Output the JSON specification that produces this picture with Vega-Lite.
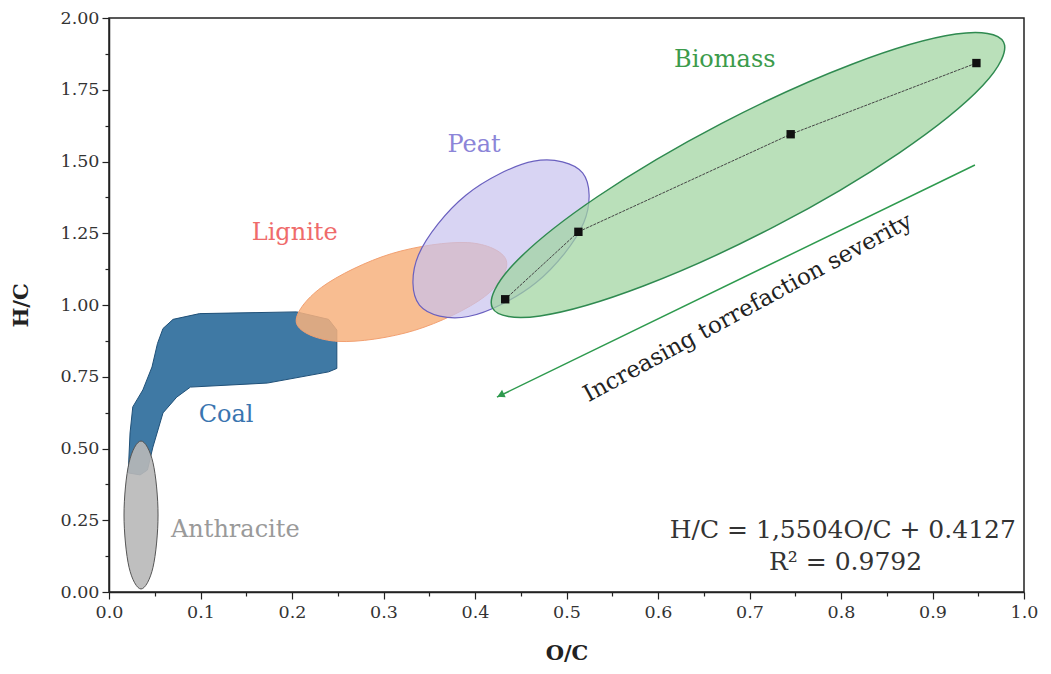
{
  "$schema": "https://vega.github.io/schema/vega-lite/v6.json",
  "width": 915,
  "height": 574,
  "autosize": {"type": "none"},
  "padding": {"left": 109, "top": 18, "right": 27, "bottom": 82},
  "background": "#ffffff",
  "config": {
    "view": {"stroke": "#222222", "strokeWidth": 1.5},
    "font": "DejaVu Serif",
    "axis": {
      "labelFont": "DejaVu Serif", "labelFontSize": 17.5, "labelColor": "#333333",
      "titleFont": "DejaVu Serif", "titleFontSize": 21, "titleFontWeight": "bold", "titleColor": "#222222",
      "domainColor": "#222222", "domainWidth": 1.5, "tickColor": "#222222", "tickWidth": 1.2, "grid": false
    }
  },
  "datasets": {
    "shapes": [
      {"region": "Coal", "i": 0, "x": 0.021, "y": 0.415},
      {"region": "Coal", "i": 1, "x": 0.023, "y": 0.554},
      {"region": "Coal", "i": 2, "x": 0.026, "y": 0.645},
      {"region": "Coal", "i": 3, "x": 0.037, "y": 0.704},
      {"region": "Coal", "i": 4, "x": 0.047, "y": 0.784},
      {"region": "Coal", "i": 5, "x": 0.053, "y": 0.866},
      {"region": "Coal", "i": 6, "x": 0.059, "y": 0.918},
      {"region": "Coal", "i": 7, "x": 0.070, "y": 0.950},
      {"region": "Coal", "i": 8, "x": 0.099, "y": 0.970},
      {"region": "Coal", "i": 9, "x": 0.205, "y": 0.976},
      {"region": "Coal", "i": 10, "x": 0.240, "y": 0.950},
      {"region": "Coal", "i": 11, "x": 0.249, "y": 0.913},
      {"region": "Coal", "i": 12, "x": 0.249, "y": 0.779},
      {"region": "Coal", "i": 13, "x": 0.240, "y": 0.767},
      {"region": "Coal", "i": 14, "x": 0.173, "y": 0.728},
      {"region": "Coal", "i": 15, "x": 0.089, "y": 0.714},
      {"region": "Coal", "i": 16, "x": 0.074, "y": 0.679},
      {"region": "Coal", "i": 17, "x": 0.059, "y": 0.624},
      {"region": "Coal", "i": 18, "x": 0.048, "y": 0.505},
      {"region": "Coal", "i": 19, "x": 0.042, "y": 0.425},
      {"region": "Coal", "i": 20, "x": 0.034, "y": 0.408},
      {"region": "Anthracite", "i": 0, "x": 0.0536, "y": 0.2683},
      {"region": "Anthracite", "i": 1, "x": 0.0481, "y": 0.4505},
      {"region": "Anthracite", "i": 2, "x": 0.0350, "y": 0.5261},
      {"region": "Anthracite", "i": 3, "x": 0.0219, "y": 0.4505},
      {"region": "Anthracite", "i": 4, "x": 0.0164, "y": 0.2683},
      {"region": "Anthracite", "i": 5, "x": 0.0219, "y": 0.0861},
      {"region": "Anthracite", "i": 6, "x": 0.0350, "y": 0.0105},
      {"region": "Anthracite", "i": 7, "x": 0.0481, "y": 0.0861},
      {"region": "Lignite", "i": 0, "x": 0.4342, "y": 1.1551},
      {"region": "Lignite", "i": 1, "x": 0.3921, "y": 1.2174},
      {"region": "Lignite", "i": 2, "x": 0.3085, "y": 1.1787},
      {"region": "Lignite", "i": 3, "x": 0.2325, "y": 1.0620},
      {"region": "Lignite", "i": 4, "x": 0.2050, "y": 0.9355},
      {"region": "Lignite", "i": 5, "x": 0.2505, "y": 0.8732},
      {"region": "Lignite", "i": 6, "x": 0.3341, "y": 0.9118},
      {"region": "Lignite", "i": 7, "x": 0.4102, "y": 1.0286},
      {"region": "Peat", "i": 0, "x": 0.5176, "y": 1.4603},
      {"region": "Peat", "i": 1, "x": 0.4643, "y": 1.5010},
      {"region": "Peat", "i": 2, "x": 0.3900, "y": 1.3826},
      {"region": "Peat", "i": 3, "x": 0.3382, "y": 1.1742},
      {"region": "Peat", "i": 4, "x": 0.3393, "y": 0.9997},
      {"region": "Peat", "i": 5, "x": 0.3926, "y": 0.9599},
      {"region": "Peat", "i": 6, "x": 0.4669, "y": 1.0784},
      {"region": "Peat", "i": 7, "x": 0.5187, "y": 1.2857},
      {"region": "Biomass", "i": 0, "x": 0.9776, "y": 1.9164},
      {"region": "Biomass", "i": 1, "x": 0.9256, "y": 1.9439},
      {"region": "Biomass", "i": 2, "x": 0.8127, "y": 1.8397},
      {"region": "Biomass", "i": 3, "x": 0.6691, "y": 1.6321},
      {"region": "Biomass", "i": 4, "x": 0.5333, "y": 1.3763},
      {"region": "Biomass", "i": 5, "x": 0.4419, "y": 1.1411},
      {"region": "Biomass", "i": 6, "x": 0.4191, "y": 0.9895},
      {"region": "Biomass", "i": 7, "x": 0.4711, "y": 0.9620},
      {"region": "Biomass", "i": 8, "x": 0.5840, "y": 1.0662},
      {"region": "Biomass", "i": 9, "x": 0.7276, "y": 1.2739},
      {"region": "Biomass", "i": 10, "x": 0.8634, "y": 1.5296},
      {"region": "Biomass", "i": 11, "x": 0.9549, "y": 1.7648}
    ],
    "samples": [
      {"x": 0.433, "y": 1.02},
      {"x": 0.513, "y": 1.255},
      {"x": 0.745, "y": 1.595},
      {"x": 0.948, "y": 1.843}
    ],
    "arrow": [
      {"x": 0.9464, "y": 1.4878},
      {"x": 0.424, "y": 0.679}
    ],
    "arrowhead": [
      {"x": 0.428, "y": 0.686}
    ],
    "labels": [
      {"label": "Biomass", "x": 0.673, "y": 1.854},
      {"label": "Peat", "x": 0.399, "y": 1.557},
      {"label": "Lignite", "x": 0.203, "y": 1.251},
      {"label": "Coal", "x": 0.128, "y": 0.617},
      {"label": "Anthracite", "x": 0.138, "y": 0.216}
    ],
    "note": [
      {"label": "Increasing torrefaction severity", "x": 0.698, "y": 0.99}
    ],
    "equation": [
      {"label": "H/C = 1,5504O/C + 0.4127", "x": 0.802, "y": 0.216},
      {"label": "R² = 0.9792", "x": 0.805, "y": 0.105}
    ]
  },
  "layer": [
    {
      "encoding": {
        "x": {"field": "x", "type": "quantitative", "scale": {"domain": [0, 1], "nice": false, "zero": false},
              "axis": {"orient": "bottom", "title": "O/C", "values": [0, 0.1, 0.2, 0.3, 0.4, 0.5, 0.6, 0.7, 0.8, 0.9, 1.0], "format": ".1f", "tickSize": 7, "labelPadding": 4, "titlePadding": 22, "labelFlush": false}},
        "y": {"field": "y", "type": "quantitative", "scale": {"domain": [0, 2], "nice": false, "zero": false},
              "axis": {"orient": "left", "title": "H/C", "values": [0, 0.25, 0.5, 0.75, 1.0, 1.25, 1.5, 1.75, 2.0], "format": ".2f", "tickSize": 7, "labelPadding": 3, "titlePadding": 29, "labelFlush": false}}
      },
      "layer": [
        {
          "data": {"name": "shapes"},
          "transform": [{"filter": "datum.region === 'Coal'"}],
          "mark": {"type": "line", "interpolate": "linear-closed", "fill": "#35729f", "fillOpacity": 0.95, "stroke": "#1f5078", "strokeWidth": 1},
          "encoding": {"order": {"field": "i", "type": "quantitative"}}
        },
        {
          "data": {"name": "shapes"},
          "transform": [{"filter": "datum.region === 'Anthracite'"}],
          "mark": {"type": "line", "interpolate": "cardinal-closed", "fill": "#b8b8b8", "fillOpacity": 0.9, "stroke": "#555555", "strokeWidth": 1},
          "encoding": {"order": {"field": "i", "type": "quantitative"}}
        },
        {
          "data": {"name": "shapes"},
          "transform": [{"filter": "datum.region === 'Lignite'"}],
          "mark": {"type": "line", "interpolate": "cardinal-closed", "fill": "#f7b27e", "fillOpacity": 0.85, "stroke": "#f2a071", "strokeWidth": 1},
          "encoding": {"order": {"field": "i", "type": "quantitative"}}
        },
        {
          "data": {"name": "shapes"},
          "transform": [{"filter": "datum.region === 'Peat'"}],
          "mark": {"type": "line", "interpolate": "cardinal-closed", "fill": "#c8c2ee", "fillOpacity": 0.7, "stroke": "#6a60bf", "strokeWidth": 1.2},
          "encoding": {"order": {"field": "i", "type": "quantitative"}}
        },
        {
          "data": {"name": "shapes"},
          "transform": [{"filter": "datum.region === 'Biomass'"}],
          "mark": {"type": "line", "interpolate": "cardinal-closed", "fill": "#9fd4a0", "fillOpacity": 0.72, "stroke": "#2f8a50", "strokeWidth": 1.5},
          "encoding": {"order": {"field": "i", "type": "quantitative"}}
        },
        {
          "data": {"name": "samples"},
          "mark": {"type": "line", "stroke": "#444444", "strokeWidth": 1, "strokeDash": [3, 1]}
        },
        {
          "data": {"name": "arrow"},
          "mark": {"type": "line", "stroke": "#2e9a4e", "strokeWidth": 1.5}
        },
        {
          "data": {"name": "arrowhead"},
          "mark": {"type": "point", "shape": "triangle-left", "filled": true, "size": 70, "angle": -26, "color": "#2e9a4e", "opacity": 1}
        },
        {
          "data": {"name": "labels"},
          "mark": {"type": "text", "font": "DejaVu Serif", "fontSize": 24, "align": "center", "baseline": "middle"},
          "encoding": {
            "text": {"field": "label"},
            "color": {"field": "label", "type": "nominal", "legend": null,
                      "scale": {"domain": ["Biomass", "Peat", "Lignite", "Coal", "Anthracite"], "range": ["#3c9b4b", "#8c85d8", "#ef6b6b", "#3a75b0", "#9a9a9a"]}}
          }
        },
        {
          "data": {"name": "note"},
          "mark": {"type": "text", "font": "DejaVu Serif", "fontSize": 23, "align": "center", "baseline": "middle", "angle": -28.5, "color": "#222222"},
          "encoding": {"text": {"field": "label"}}
        },
        {
          "data": {"name": "equation"},
          "mark": {"type": "text", "font": "DejaVu Serif", "fontSize": 25, "align": "center", "baseline": "middle", "color": "#333333"},
          "encoding": {"text": {"field": "label"}}
        }
      ]
    },
    {
      "data": {"name": "samples"},
      "mark": {"type": "point", "shape": "square", "filled": true, "size": 70, "color": "#111111", "opacity": 1},
      "encoding": {
        "x": {"field": "x", "type": "quantitative",
              "axis": {"orient": "bottom", "title": null, "labels": false, "domain": false, "tickSize": 4, "values": [0.05, 0.15, 0.25, 0.35, 0.45, 0.55, 0.65, 0.75, 0.85, 0.95]}},
        "y": {"field": "y", "type": "quantitative",
              "axis": {"orient": "left", "title": null, "labels": false, "domain": false, "tickSize": 4, "values": [0.125, 0.375, 0.625, 0.875, 1.125, 1.375, 1.625, 1.875]}}
      }
    }
  ],
  "resolve": {"axis": {"x": "independent", "y": "independent"}}
}
